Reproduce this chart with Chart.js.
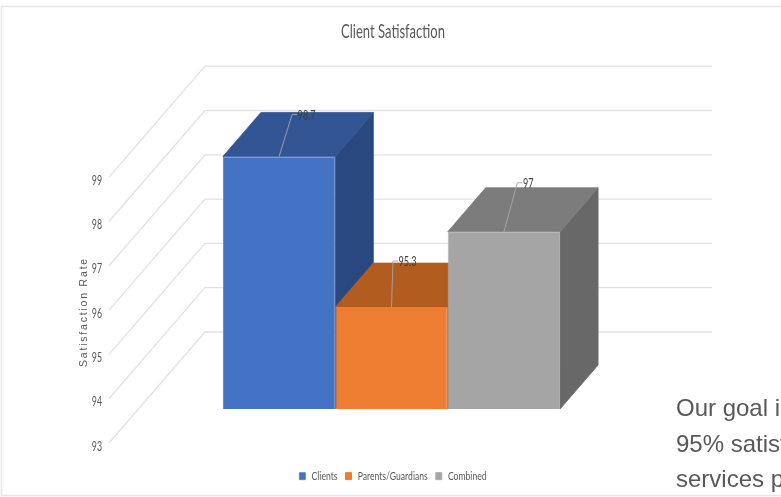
<!DOCTYPE html>
<html>
<head>
<meta charset="utf-8">
<style>
  html, body { margin: 0; padding: 0; background: #fff; overflow: hidden; }
  #wrap { position: relative; width: 781px; height: 497px; overflow: hidden; }
  #grafico { position: absolute; left: 0; top: 0; }
  #nota {
    position: absolute; left: 676px; top: 390px; width: 105px; overflow: hidden;
    font: 24px/35.5px "Liberation Sans", Arial, sans-serif; color: #595959; white-space: nowrap;
  }
</style>
</head>
<body>
<div id="wrap">
  <canvas id="grafico" width="786" height="497"></canvas>
  <div id="nota">Our goal is<br>95% satisfaction<br>services p</div>
</div>
<script src="https://cdn.jsdelivr.net/npm/chart.js@4"></script>
<script>
const categorias = [''];
const nomesSeries = ['Clients', 'Parents/Guardians', 'Combined'];
const valores = [98.7, 95.3, 97];
const valorBase = 93;
const valorTopo = 99;
const coresFrente = ['#4472c4', '#ed7d31', '#a5a5a5'];
const coresBorda = ['#5f86cd', '#ed7d31', '#b0b0b0'];
const coresTopo = ['#325594', '#b25c20', '#7c7c7c'];
const coresLado = ['#2a4880', '#95501c', '#686868'];
const tituloEixo = 'Satisfaction Rate';

const fonteEstreita = 'Lato, sans-serif';
const apertoTexto = 0.7;

// projecao 3D: deslocamento do plano das barras ate a frente e ate o fundo da caixa
const frente = { dx: -29, dy: 34 };
const fundo = { dx: 67, dy: -77 };
const profundidadeBarra = { dx: 38, dy: -44 };
// linha guia dos rotulos, a partir do topo da barra
const guias = [{ dx: 13, dy: -42 }, { dx: 1.5, dy: -46 }, { dx: 13.5, dy: -49 }];

const ctxGrafico = document.getElementById('grafico').getContext('2d');

// o texto do original e comprimido na horizontal
const fillTextOriginal = ctxGrafico.fillText;
const measureTextOriginal = ctxGrafico.measureText;
ctxGrafico.fillText = function (texto, x, y) {
    if (!this.font.includes('Lato')) return fillTextOriginal.call(this, texto, x, y);
    this.save();
    this.translate(x, y);
    this.scale(apertoTexto, 1);
    fillTextOriginal.call(this, texto, 0, 0);
    this.restore();
};
ctxGrafico.measureText = function (texto) {
    const m = measureTextOriginal.call(this, texto);
    return this.font.includes('Lato') ? { width: m.width * apertoTexto } : m;
};

function poligono(ctx, pontos, cor, borda) {
    ctx.beginPath();
    pontos.forEach((p, i) => i ? ctx.lineTo(p[0], p[1]) : ctx.moveTo(p[0], p[1]));
    ctx.closePath();
    ctx.fillStyle = cor;
    ctx.fill();
    ctx.strokeStyle = borda || cor;
    ctx.lineWidth = 0.8;
    ctx.stroke();
}

const caixa3D = {
    id: 'caixa3D',
    beforeDraw(chart) {
        const ctx = chart.ctx;
        ctx.save();
        ctx.strokeStyle = '#e6e6e6';
        ctx.lineWidth = 1.5;
        ctx.strokeRect(1.5, 6.5, 800, 489);
        ctx.restore();
    },
    beforeDatasetsDraw(chart) {
        const ctx = chart.ctx;
        const { x, y } = chart.scales;
        ctx.save();
        // linhas de grade: diagonal na lateral + horizontal no fundo
        y.ticks.forEach(t => {
            const py = y.getPixelForValue(t.value);
            ctx.beginPath();
            ctx.moveTo(x.left + frente.dx, py + frente.dy);
            ctx.lineTo(x.left + fundo.dx, py + fundo.dy);
            ctx.lineTo(x.right + fundo.dx, py + fundo.dy);
            ctx.strokeStyle = '#e2e2e2';
            ctx.lineWidth = 1.3;
            ctx.stroke();
        });
        // faces de topo e lateral, da esquerda para a direita
        nomesSeries.forEach((_, i) => {
            const b = chart.getDatasetMeta(i).data[0];
            const esq = b.x - b.width / 2, dir = b.x + b.width / 2;
            const d = profundidadeBarra;
            poligono(ctx, [[dir, b.y], [dir + d.dx, b.y + d.dy], [dir + d.dx, b.base + d.dy], [dir, b.base]], coresLado[i]);
            poligono(ctx, [[esq, b.y], [esq + d.dx, b.y + d.dy], [dir + d.dx, b.y + d.dy], [dir, b.y]], coresTopo[i]);
        });
        ctx.restore();
    },
    afterDatasetsDraw(chart) {
        const ctx = chart.ctx;
        ctx.save();
        nomesSeries.forEach((_, i) => {
            const b = chart.getDatasetMeta(i).data[0];
            const g = guias[i];
            ctx.beginPath();
            ctx.moveTo(b.x, b.y);
            ctx.lineTo(b.x + g.dx, b.y + g.dy);
            ctx.lineTo(b.x + g.dx + 5, b.y + g.dy);
            ctx.strokeStyle = '#a6a6a6';
            ctx.lineWidth = 0.9;
            ctx.stroke();
            ctx.fillStyle = '#404040';
            ctx.font = '13px ' + fonteEstreita;
            ctx.textAlign = 'left';
            ctx.textBaseline = 'middle';
            ctx.fillText(String(valores[i]), b.x + g.dx + 5.5, b.y + g.dy + 1);
        });
        // titulo do eixo com espacamento entre letras
        ctx.translate(84, 312);
        ctx.rotate(-Math.PI / 2);
        ctx.font = '10.5px "Liberation Sans", sans-serif';
        ctx.letterSpacing = '1.8px';
        ctx.fillStyle = '#595959';
        ctx.textAlign = 'center';
        ctx.textBaseline = 'middle';
        ctx.fillText(tituloEixo, 0, 0);
        ctx.restore();
    }
};

new Chart(ctxGrafico, {
    type: 'bar',
    data: {
        labels: categorias,
        datasets: nomesSeries.map((nome, i) => ({
            label: nome,
            data: [valores[i]],
            base: valorBase,
            backgroundColor: coresFrente[i],
            borderColor: coresBorda[i],
            borderWidth: 1,
            categoryPercentage: 0.665,
            barPercentage: 1
        }))
    },
    options: {
        responsive: false,
        animation: false,
        layout: { padding: { left: 0, right: 0, top: 0, bottom: 4.7 } },
        plugins: {
            tooltip: { enabled: false },
            title: {
                display: true,
                text: 'Client Satisfaction',
                color: '#595959',
                font: { family: fonteEstreita, size: 18.6, weight: 'normal' },
                padding: { top: 20.85, bottom: 100 }
            },
            legend: {
                position: 'bottom',
                labels: {
                    boxWidth: 6,
                    boxHeight: 7,
                    padding: 8,
                    color: '#595959',
                    font: { family: fonteEstreita, size: 12.3 }
                }
            }
        },
        scales: {
            x: {
                ticks: { display: false },
                grid: { display: false },
                border: { display: false },
                afterFit: s => { s.height = 53; }
            },
            y: {
                min: valorBase,
                max: valorTopo,
                grid: { display: false, drawTicks: false },
                border: { display: false },
                afterFit: s => { s.width = 138; },
                ticks: {
                    stepSize: 1,
                    padding: 36,
                    labelOffset: 37.5,
                    color: '#595959',
                    font: { family: fonteEstreita, size: 12.6 }
                }
            },
            // eixo vazio, so reserva a margem direita sem deslocar titulo e legenda
            margemDireita: {
                position: 'right',
                ticks: { display: false },
                grid: { display: false },
                border: { display: false },
                afterFit: s => { s.width = 141; }
            }
        }
    },
    plugins: [caixa3D]
});
</script>
</body>
</html>
